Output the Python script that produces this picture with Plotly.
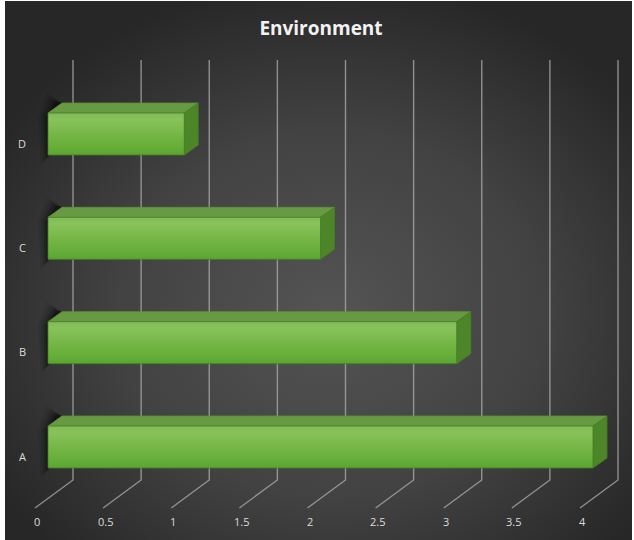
import base64
import plotly.graph_objects as go

# ---- data ----
categories = ["A", "B", "C", "D"]
values = [4, 3, 2, 1]
tick_values = [0, 0.5, 1, 1.5, 2, 2.5, 3, 3.5, 4]
tick_labels = ["0", "0.5", "1", "1.5", "2", "2.5", "3", "3.5", "4"]
chart_title = "Environment"

# ---- canvas / projection settings (pixels) ----
W, H = 634, 540
X0, SX = 48.0, 136.25      # x pixel of value 0 on the bar plane, pixels per unit
Y0, SY = 447.0, 104.33     # y pixel of first category centre, pixels per category

def px_x(p):               # pixel distance -> x data units
    return p / SX

def px_y(p):               # pixel distance -> y data units
    return p / SY

x_range = [-X0 / SX, (W - X0) / SX]
y_range = [(Y0 - H) / SY, Y0 / SY]

half = px_y(21)            # half bar thickness
ddx, ddy = px_x(14), px_y(10)        # bar depth offset
back_dx = px_x(25)                   # back wall offset
floor_dx = px_x(-13)                 # floor front edge offset
grid_top = (Y0 - 60) / SY
grid_bottom = (Y0 - 480) / SY
floor_front = (Y0 - 508) / SY

fig = go.Figure()

# gridlines: vertical on the back wall, then slanting across the floor
for v in tick_values:
    fig.add_trace(go.Scatter(
        x=[v + back_dx, v + back_dx, v + floor_dx],
        y=[grid_top, grid_bottom, floor_front],
        mode="lines", line=dict(color="rgba(175,175,175,0.75)", width=1.4),
        hoverinfo="skip", showlegend=False))

# bars
for i, (cat, v) in enumerate(zip(categories, values)):
    yc = i
    top, bot = yc + half, yc - half

    # soft shadow wedge behind the left end of the bar
    for spread, alpha in [(10, 0.08), (7, 0.11), (4.5, 0.15), (2.5, 0.2), (1, 0.25)]:
        fig.add_trace(go.Scatter(
            x=[px_x(2), ddx, ddx - px_x(5 + spread), -px_x(spread),
               -px_x(spread * 0.7), px_x(2)],
            y=[top, top + ddy, top + ddy + px_y(spread),
               top - px_y(4), bot - px_y(spread), bot],
            fill="toself", fillcolor=f"rgba(0,0,0,{alpha})",
            mode="lines", line=dict(width=0),
            hoverinfo="skip", showlegend=False))

    # top face
    fig.add_trace(go.Scatter(
        x=[0, v, v + ddx, ddx, 0],
        y=[top, top, top + ddy, top + ddy, top],
        fill="toself", fillcolor="#679a42",
        mode="lines", line=dict(color="#5f9139", width=0.8),
        hoverinfo="skip", showlegend=False))

    # right face
    fig.add_trace(go.Scatter(
        x=[v, v + ddx, v + ddx, v, v],
        y=[top, top + ddy, bot + ddy, bot, top],
        fill="toself", fillcolor="#4c8628",
        mode="lines", line=dict(color="#467d24", width=0.8),
        hoverinfo="skip", showlegend=False))

    # front face with vertical gradient
    fig.add_trace(go.Scatter(
        x=[0, v, v, 0, 0],
        y=[bot, bot, top, top, bot],
        fill="toself",
        fillgradient=dict(
            type="vertical",
            colorscale=[[0, "#5aa52f"], [0.12, "#62ab36"], [0.5, "#76b747"],
                        [0.85, "#88c25b"], [1, "#80bb55"]],
            start=bot, stop=top),
        mode="lines", line=dict(color="rgba(70,125,40,0.8)", width=1),
        name=cat, hoverinfo="skip", showlegend=False))

# category labels
annotations = []
for i, cat in enumerate(categories):
    annotations.append(dict(
        x=22 / W, xref="paper", xanchor="center",
        y=i, yref="y", yanchor="middle", yshift=-9,
        text=cat, showarrow=False,
        font=dict(family="Open Sans", size=11, color="#dcdcdc")))

# value axis labels along the floor front edge
for v, lab in zip(tick_values, tick_labels):
    annotations.append(dict(
        x=v + px_x(-11), xref="x", xanchor="center",
        y=1 - 521 / H, yref="paper", yanchor="middle",
        text=lab, showarrow=False,
        font=dict(family="Open Sans", size=11, color="#dcdcdc")))

# background: white frame with a dark radial gradient panel
svg = (
    f"<svg xmlns='http://www.w3.org/2000/svg' width='{W}' height='{H}'>"
    "<defs><radialGradient id='g' cx='0.52' cy='0.58' r='0.62'>"
    "<stop offset='0' stop-color='#545454'/>"
    "<stop offset='0.55' stop-color='#424242'/>"
    "<stop offset='1' stop-color='#272727'/>"
    "</radialGradient></defs>"
    f"<rect width='{W}' height='{H}' fill='#ffffff'/>"
    f"<rect x='5' y='1' width='{W - 7}' height='{H - 1}' fill='url(#g)'/>"
    "</svg>"
)
bg_uri = "data:image/svg+xml;base64," + base64.b64encode(svg.encode()).decode()

fig.update_layout(
    width=W, height=H,
    margin=dict(l=0, r=0, t=0, b=0),
    paper_bgcolor="#ffffff",
    plot_bgcolor="rgba(0,0,0,0)",
    images=[dict(source=bg_uri, xref="paper", yref="paper", x=0, y=1,
                 sizex=1, sizey=1, xanchor="left", yanchor="top",
                 sizing="stretch", layer="below")],
    title=dict(text=f"<b>{chart_title}</b>", x=321 / W, xanchor="center",
               y=1 - 28 / H, yanchor="middle",
               font=dict(family="Open Sans", size=19, color="#f2f2f2")),
    xaxis=dict(range=x_range, visible=False, fixedrange=True),
    yaxis=dict(range=y_range, visible=False, fixedrange=True),
    annotations=annotations,
    showlegend=False,
)

fig.write_html("out.html")
